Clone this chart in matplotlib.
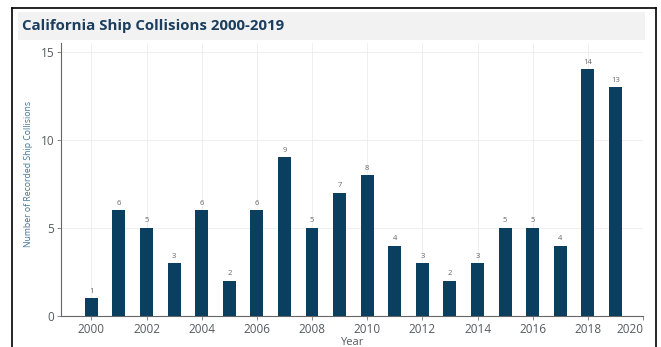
import matplotlib.pyplot as plt
from matplotlib.patches import Rectangle

# yearly counts
years = list(range(2000, 2020))
collisions = [1, 6, 5, 3, 6, 2, 6, 9, 5, 7, 8, 4, 3, 2, 3, 5, 5, 4, 14, 13]
xticks = list(range(2000, 2021, 2))
yticks = [0, 5, 10, 15]

bar_color = '#0b3f5f'
tick_color = '#555a60'

plt.rcParams['font.family'] = ['Open Sans', 'DejaVu Sans']

fig = plt.figure(figsize=(6.61, 3.47), dpi=100)

# outer frame (left, top, right) and grey title band
fig.add_artist(plt.Line2D([12/661, 12/661], [0, 1-8/347], color='black', lw=1.2))
fig.add_artist(plt.Line2D([12/661, 656/661], [1-8/347, 1-8/347], color='black', lw=1.2))
fig.add_artist(plt.Line2D([656/661, 656/661], [0, 1-8/347], color='black', lw=1.2))
fig.add_artist(Rectangle((18/661, 1-40/347), (645-18)/661, 28/347,
                         transform=fig.transFigure, color='#f2f2f2', lw=0))
fig.text(22/661, 1-26/347, 'California Ship Collisions 2000-2019', fontsize=10.8,
         fontweight='bold', color='#1b3d5e', va='center', ha='left')

ax = fig.add_axes([61/661, 31/347, 582/661, 273/347])
ax.bar(years, collisions, width=0.47, color=bar_color, zorder=3)
for x, v in zip(years, collisions):
    ax.text(x, v + 0.2, str(v), ha='center', va='bottom', fontsize=5.5, color='#666666')

ax.set_xlim(1998.9, 2020)
ax.set_ylim(0, 15.5)
ax.set_xticks(xticks)
ax.set_xticklabels([str(t) for t in xticks])
ax.get_xticklabels()[-1].set_ha('right')
ax.set_yticks(yticks)
ax.grid(True, color='#ececec', lw=0.6, zorder=0)
ax.tick_params(axis='both', colors='#777777', labelcolor=tick_color, labelsize=8.5,
               length=3, width=0.6, pad=2)
for s in ['top', 'right']:
    ax.spines[s].set_visible(False)
for s in ['left', 'bottom']:
    ax.spines[s].set_color('#666666')
    ax.spines[s].set_linewidth(0.8)

ax.set_xlabel('Year', fontsize=8, color=tick_color, labelpad=1)
ax.set_ylabel('Number of Recorded Ship Collisions', fontsize=6.2,
              color='#3f7393', labelpad=5)
ax.yaxis.set_label_coords(-0.048, 0.52)

fig.savefig('out.png', dpi=100)
